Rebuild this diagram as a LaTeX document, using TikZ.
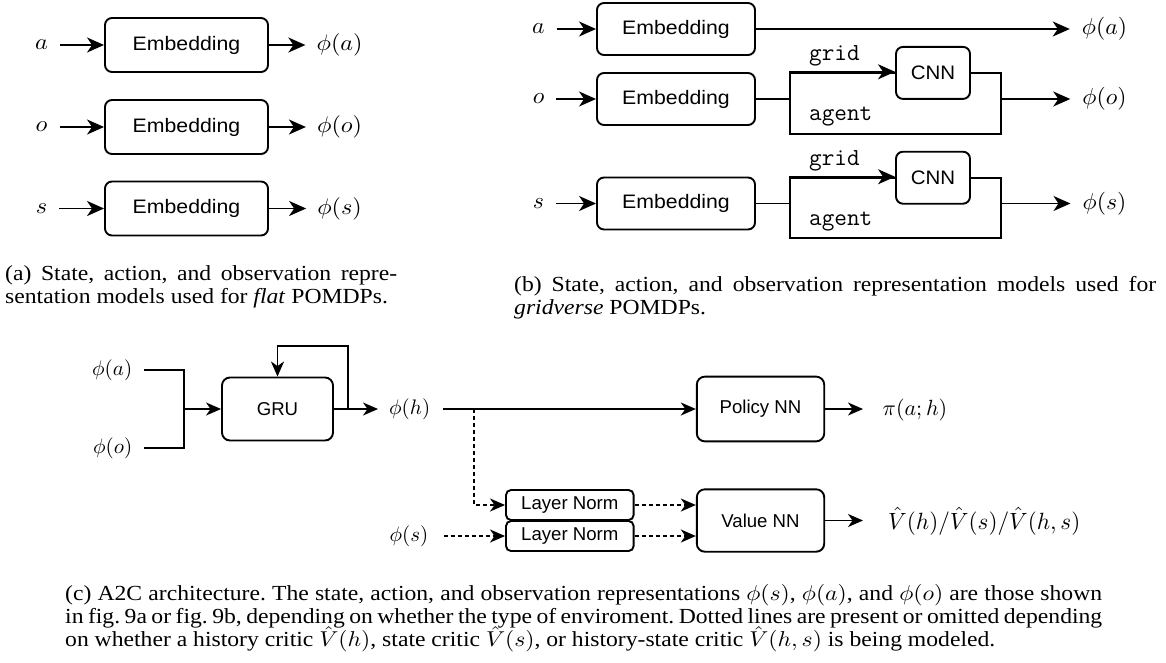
\documentclass[tikz,border=0pt]{standalone}
\usepackage[no-math]{fontspec}
\setmainfont{Liberation Serif}
\newfontfamily\dsf{Liberation Sans}
\usepackage{graphicx}
\usetikzlibrary{arrows.meta}
\newcommand\xs[2]{\scalebox{#1}[1]{#2}}
% math set at 10pt and scaled: \mth{xscale}{yscale}{formula}
\newcommand\mth[3]{\scalebox{#1}[#2]{\fontsize{10}{12}\selectfont$#3$}}
\newcommand\ma[1]{\mth{2.42}{2.25}{#1}}
\newcommand\mb[1]{\mth{2.37}{2.3}{#1}}
\newcommand\mc[1]{\mth{2.1}{2.1}{#1}}
\newcommand\capbox[1]{\scalebox{2.365}[2.15]{\fontsize{10}{10.7}\selectfont\lineskiplimit=-100pt\frenchspacing\vtop{#1}}}
\tikzset{
  lw/.style={line width=1.9pt},
  arr/.style={lw, -{Stealth[length=17pt,width=15pt,inset=5pt]}},
  arrc/.style={lw, -{Stealth[length=15pt,width=13pt,inset=4.5pt]}},
  darr/.style={arrc, dash pattern=on 4pt off 3pt},
  ebox/.style={draw, lw, fill=white, rounded corners=7pt, inner sep=0,
    font=\dsf\fontsize{19.5}{22}\selectfont},
  eboxa/.style={ebox, minimum width=163pt, minimum height=54pt},
  eboxb/.style={ebox, minimum width=158pt, minimum height=52pt},
  cnnbox/.style={ebox, minimum width=74pt, minimum height=52pt},
  splitbox/.style={draw, lw, inner sep=0, minimum width=210.7pt},
  ttlab/.style={anchor=base west, inner sep=0, font=\ttfamily\fontsize{24.5}{28}\selectfont},
  mlab/.style={inner sep=0},
  gbox/.style={draw, lw, fill=white, rounded corners=8pt, inner sep=0,
    font=\dsf\fontsize{18.6}{22}\selectfont},
  lnbox/.style={draw, lw, fill=white, rounded corners=5pt, inner sep=0,
    minimum width=127.6pt, minimum height=30pt, font=\dsf\fontsize{18.6}{22}\selectfont},
  captext/.style={anchor=base west, inner sep=0},
}
\begin{document}
\begin{tikzpicture}[x=1pt,y=-1pt]
\fill[white] (0,0) rectangle (1166,662);
\useasboundingbox (0,0) rectangle (1166,662);

% ---------------- panel (a)
\node[mlab] (ia) at (41.5,45) {\ma{a}};
\node[mlab] (io) at (41.5,127) {\ma{o}};
\node[mlab] (is) at (41.5,208.5) {\ma{s}};
\node[eboxa] (ea) at (186.5,45) {\xs{1.09}{Embedding}};
\node[eboxa] (eo) at (186.5,127) {\xs{1.09}{Embedding}};
\node[eboxa] (es) at (186.5,208.5) {\xs{1.09}{Embedding}};
\node[mlab] (pa) at (339.6,45) {\ma{\phi(a)}};
\node[mlab] (po) at (339.6,127) {\ma{\phi(o)}};
\node[mlab] (ps) at (339.6,208.5) {\ma{\phi(s)}};
\foreach \i/\e/\p in {ia/ea/pa, io/eo/po, is/es/ps}{
  \draw[arr, shorten <=12pt] (\i.east) -- (\e.west);
  \draw[arr, shorten >=11pt] (\e.east) -- (\p.west);
}

% ---------------- panel (b)
\node[mlab] (ib1) at (538.5,29) {\mb{a}};
\node[mlab] (ib2) at (538.5,99) {\mb{o}};
\node[mlab] (ib3) at (538.5,203.5) {\mb{s}};
\node[eboxb] (eb1) at (676,29) {\xs{1.09}{Embedding}};
\node[eboxb] (eb2) at (676,99) {\xs{1.09}{Embedding}};
\node[eboxb] (eb3) at (676,203.5) {\xs{1.09}{Embedding}};
\node[mlab] (pb1) at (1104.5,29) {\mb{\phi(a)}};
\node[mlab] (pb2) at (1104.5,99) {\mb{\phi(o)}};
\node[mlab] (pb3) at (1104.5,203.5) {\mb{\phi(s)}};
\foreach \i/\e in {ib1/eb1, ib2/eb2, ib3/eb3}{
  \draw[arr, shorten <=12pt] (\i.east) -- (\e.west);
}
\draw[arr, shorten >=12pt] (eb1.east) -- (pb1.west);
% observation branch
\node[splitbox, minimum height=61.3pt] (fo) at (895.4,103.4) {};
\node[cnnbox] (co) at (933,72.9) {\xs{1.05}{CNN}};
\draw[lw] (eb2.east) -- (eb2.east -| fo.west);
\draw[arr] (fo.north west) -- (fo.north west -| co.west);
\draw[arr, shorten >=12pt] (fo.east |- pb2) -- (pb2.west);
\node[ttlab] (go) at (809,60) {grid};
\node[ttlab] (ao) at (809,120.5) {agent};
% state branch
\node[splitbox, minimum height=60.6pt] (fs) at (895.4,208) {};
\node[cnnbox] (cs) at (933,177.7) {\xs{1.05}{CNN}};
\draw[lw] (eb3.east) -- (eb3.east -| fs.west);
\draw[arr] (fs.north west) -- (fs.north west -| cs.west);
\draw[arr, shorten >=12pt] (fs.east |- pb3) -- (pb3.west);
\node[ttlab] (gs) at (809,165) {grid};
\node[ttlab] (as) at (809,225.5) {agent};

% ---------------- captions (a) and (b)
\node[captext] (capa) at (5,280) {\capbox{%
  \hbox to 165.75pt{(a) State, action, and observation repre-}%
  \hbox{sentation models used for \textit{flat} POMDPs.}}};
\node[captext] (capb) at (514,291) {\capbox{%
  \hbox to 271.46pt{(b) State, action, and observation representation models used for}%
  \hbox{\textit{gridverse} POMDPs.}}};

% ---------------- panel (c)
\node[mlab] (ca) at (112.2,370) {\mc{\phi(a)}};
\node[mlab] (cb) at (112.7,448) {\mc{\phi(o)}};
\coordinate (jn) at (184,409);
\node[gbox, minimum width=111pt, minimum height=63pt] (gru) at (277.5,409) {GRU};
\draw[lw, shorten <=12pt] (ca.east) -| (jn);
\draw[lw, shorten <=12pt] (cb.east) -| (jn);
\draw[arrc] (jn) -- (gru.west);
\coordinate (fb) at (348.3,345.7);
\draw[arrc] (gru.east) -| (fb) -| (gru.north);
\node[mlab] (ph) at (409.7,409) {\mc{\phi(h)}};
\draw[arrc, shorten >=11pt] (gru.east) -- (ph.west);
\node[gbox, minimum width=127.4pt, minimum height=64.7pt] (pol) at (760.5,409) {Policy NN};
\draw[arrc, shorten <=13pt] (ph.east) -- (pol.west);
\node[anchor=base west, inner sep=0] (pi) at (882.5,415.5) {\mth{2.2}{2.2}{\pi(a;h)}};
\draw[arrc, shorten >=19.5pt] (pol.east) -- (pol.east -| pi.west);
\coordinate (br) at (474.3,409);
\node[lnbox] (ln1) at (569.8,505) {Layer Norm};
\node[lnbox] (ln2) at (569.8,536) {Layer Norm};
\draw[darr] (br) |- (ln1.west);
\node[mlab] (cs2) at (409,536) {\mc{\phi(s)}};
\draw[darr, shorten <=15pt] (cs2.east) -- (ln2.west);
\node[gbox, minimum width=127.4pt, minimum height=62.4pt] (val) at (760.5,520.5) {Value NN};
\draw[darr] (ln1.east) -- (ln1.east -| val.west);
\draw[darr] (ln2.east) -- (ln2.east -| val.west);
\node[anchor=base west, inner sep=0] (vl) at (888,529)
  {\mth{2.32}{2.35}{\hat{V}(h)/\hat{V}(s)/\hat{V}(h,s)}};
\draw[arrc, shorten >=25pt] (val.east) -- (val.east -| vl.west);

% ---------------- caption (c)
\node[captext] (capc) at (65,600.5) {\capbox{%
  \hbox to 438.48pt{(c) A2C architecture. The state, action, and observation representations $\phi(s)$, $\phi(a)$, and $\phi(o)$ are those shown}%
  \hbox to 438.48pt{in fig. 9a or fig. 9b, depending on whether the type of enviroment. Dotted lines are present or omitted depending}%
  \hbox{on whether a history critic $\hat{V}(h)$, state critic $\hat{V}(s)$, or history-state critic $\hat{V}(h,s)$ is being modeled.}}};
\end{tikzpicture}
\end{document}
